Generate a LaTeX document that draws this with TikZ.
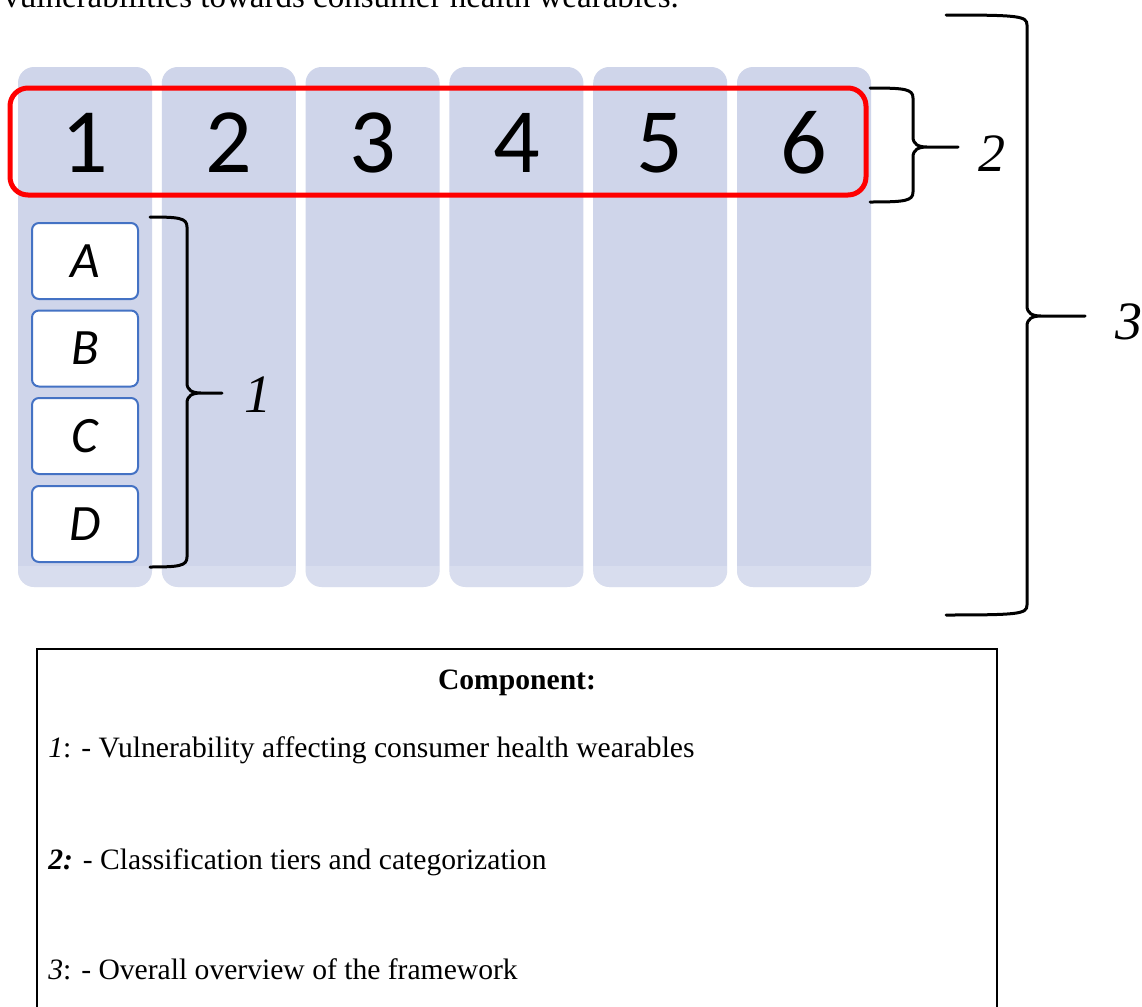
\documentclass[tikz,border=0pt]{standalone}
\usepackage{fontspec}
\setmainfont{Liberation Serif}
\newfontfamily\carlito{Carlito}
\definecolor{colfill}{HTML}{CFD5EA}
\definecolor{boxblue}{HTML}{4472C4}
\definecolor{tierred}{HTML}{FF0000}

% curly brace: left end x, stem x, tip x, top y, middle y, bottom y
\newcommand\tallbrace[6]{%
  \draw[bracestyle] (#1,#4) .. controls (#2-8,#4) and (#2,#4+1) .. (#2,#4+10)
    -- (#2,#5-10) .. controls (#2,#5-3) and (#2+5,#5) .. (#2+14,#5) -- (#3,#5)
    (#2+14,#5) .. controls (#2+5,#5) and (#2,#5+3) .. (#2,#5+10)
    -- (#2,#6-10) .. controls (#2,#6-1) and (#2-8,#6) .. (#1,#6);}

\begin{document}
\begin{tikzpicture}[x=0.5pt,y=-0.5pt,
  bracestyle/.style={line width=1.5pt, black, line cap=round},
  digit/.style={font=\carlito\fontsize{46}{46}\selectfont, inner sep=0pt},
  letterbox/.style={draw=boxblue, line width=1pt, fill=white, rounded corners=3.5pt,
    minimum width=53pt, minimum height=38pt, inner sep=0pt,
    font=\carlito\itshape\fontsize{25.5}{25.5}\selectfont},
  tierframe/.style={draw=tierred, line width=2.5pt, rounded corners=9pt,
    minimum width=428pt, minimum height=53.5pt, inner sep=0pt},
  brlabel/.style={font=\itshape\fontsize{27}{27}\selectfont, inner sep=0pt},
  legendtext/.style={font=\fontsize{14.8}{17}\selectfont, inner sep=0pt, anchor=base west}]

\useasboundingbox (0,0) rectangle (1142,1007);
\fill[white] (0,0) rectangle (1142,1007);

% caption line running in from above
\node[font=\fontsize{16.5}{18}\selectfont, inner sep=0pt, anchor=base west] (caption) at (3,7)
  {vulnerabilities towards consumer health wearables.};

% six category columns
\foreach \i in {0,...,5} {
  \pgfmathsetmacro\xl{18+143.8*\i}
  \fill[colfill, rounded corners=8] (\xl,67) rectangle ++(134,520);
  \begin{scope}
    \clip (\xl,566) rectangle ++(134,30);
    \fill[white, opacity=0.2, rounded corners=8] (\xl,67) rectangle ++(134,520);
  \end{scope}
}

% tier numbers
\foreach \i in {1,...,6} {
  \pgfmathsetmacro\xc{85+143.8*(\i-1)}
  \node[digit] (d\i) at (\xc,143) {\i};
}

% tier frame
\node[tierframe] (tiers) at (438,141.5) {};

% vulnerability boxes
\node[letterbox] (A) at (85,261) {A};
\node[letterbox] (B) at (85,348.5) {B};
\node[letterbox] (C) at (85,436) {C};
\node[letterbox] (D) at (85,524) {D};

% braces and their labels
\tallbrace{150}{187}{222}{217}{393}{567}
\node[brlabel] (l1) at (258,395) {1};

\tallbrace{870}{913}{958}{88}{147}{202}
\node[brlabel] (l2) at (992,154) {2};

\tallbrace{946}{1027}{1085}{15}{316}{615}
\node[brlabel] (l3) at (1129,322) {3};

% component legend
\draw[line width=1pt] (37,1007) -- (37,649) -- (997,649) -- (997,1007);
\node[font=\bfseries\fontsize{14.8}{17}\selectfont, inner sep=0pt, anchor=base] (comp) at (517,689) {Component:};
\node[legendtext] (c1) at (48,757) {\textit{1}: - Vulnerability affecting consumer health wearables};
\node[legendtext] (c2) at (48,869) {\textbf{\textit{2:}} - Classification tiers and categorization};
\node[legendtext] (c3) at (48,979) {\textit{3}: - Overall overview of the framework};

\end{tikzpicture}
\end{document}
